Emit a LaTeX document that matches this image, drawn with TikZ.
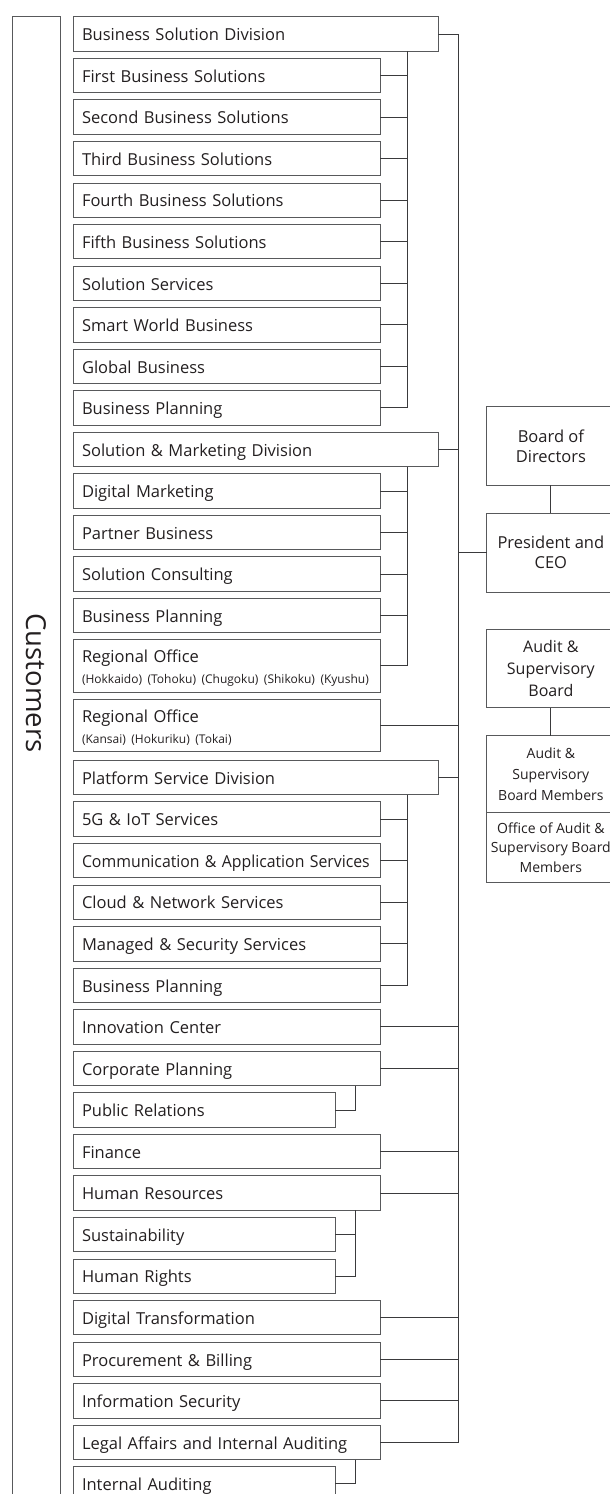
\documentclass[tikz,border=0pt]{standalone}
\usepackage{fontspec}
\setmainfont{Open Sans}
\definecolor{txt}{HTML}{231F20}
\definecolor{boxc}{HTML}{58595B}
\definecolor{linec}{HTML}{3A3A3C}
\begin{document}
\begin{tikzpicture}[x=1pt,y=-1pt,
  box/.style={draw=boxc, line width=0.8pt, anchor=north west, outer sep=0pt, inner xsep=9pt, inner ysep=0pt,
    minimum height=34.4pt, text height=13.6pt, text depth=0pt, align=left,
    font=\fontsize{16.5}{20}\selectfont, text=txt},
  ub/.style={box, text width=289pt},
  db/.style={box, text width=347pt},
  sb/.style={box, text width=244pt},
  rb/.style={box, text width=289pt, minimum height=52.7pt, text height=12pt, text depth=17.9pt,
    font=\fontsize{16.5}{20.6}\selectfont},
  cb/.style={draw=boxc, line width=0.8pt, anchor=north west, outer sep=0pt, inner sep=0pt,
    minimum width=128.3pt, align=center, text=txt},
  link/.style={draw=linec, line width=0.8pt}]
\useasboundingbox (0,0) rectangle (610,1494);
\clip (0,0) rectangle (610,1494);

% customers
\node[draw=boxc, line width=0.8pt, anchor=north west, outer sep=0pt, inner sep=0pt,
  minimum width=48pt, minimum height=1500pt] (cust) at (12,16.3) {};
\node[rotate=-90, text=txt, font=\fontsize{27.5}{30}\selectfont] (custtext) at (36,683) {Customers};

% left column
\node[db] (bsd) at (73,16.7) {Business Solution Division};
\node[ub] (first) at (73,58.25) {First Business Solutions};
\node[ub] (second) at (73,99.8) {Second Business Solutions};
\node[ub] (third) at (73,141.35) {Third Business Solutions};
\node[ub] (fourth) at (73,182.9) {Fourth Business Solutions};
\node[ub] (fifth) at (73,224.45) {Fifth Business Solutions};
\node[ub] (solsvc) at (73,266.0) {Solution Services};
\node[ub] (smart) at (73,307.55) {Smart World Business};
\node[ub] (global) at (73,349.1) {Global Business};
\node[ub] (bsdp) at (73,390.65) {Business Planning};
\node[db] (sm) at (73,432.2) {Solution \& Marketing Division};
\node[ub] (dm) at (73,473.75) {Digital Marketing};
\node[ub] (partner) at (73,515.3) {Partner Business};
\node[ub] (consult) at (73,556.85) {Solution Consulting};
\node[ub] (smp) at (73,598.4) {Business Planning};
\node[rb] (ro1) at (73,639.3) {Regional Office\\{\fontsize{12}{20.6}\selectfont (Hokkaido) (Tohoku) (Chugoku) (Shikoku) (Kyushu)}};
\node[rb, minimum height=52.4pt] (ro2) at (73,699.3) {Regional Office\\{\fontsize{12}{20.6}\selectfont (Kansai) (Hokuriku) (Tokai)}};
\node[db] (psd) at (73,760.3) {Platform Service Division};
\node[ub] (iot) at (73,801.85) {5G \& IoT Services};
\node[ub] (comm) at (73,843.4) {\scalebox{0.96}[1]{Communication \& Application Services}};
\node[ub] (cloud) at (73,884.95) {Cloud \& Network Services};
\node[ub] (managed) at (73,926.5) {Managed \& Security Services};
\node[ub] (psdp) at (73,968.05) {Business Planning};
\node[ub] (inno) at (73,1009.6) {Innovation Center};
\node[ub] (corp) at (73,1051.15) {Corporate Planning};
\node[sb] (pr) at (73,1092.7) {Public Relations};
\node[ub] (fin) at (73,1134.25) {Finance};
\node[ub] (hr) at (73,1175.8) {Human Resources};
\node[sb] (sust) at (73,1217.35) {Sustainability};
\node[sb] (hrights) at (73,1258.9) {Human Rights};
\node[ub] (dx) at (73,1300.45) {Digital Transformation};
\node[ub] (proc) at (73,1342.0) {Procurement \& Billing};
\node[ub] (infosec) at (73,1383.55) {Information Security};
\node[ub] (legal) at (73,1425.1) {Legal Affairs and Internal Auditing};
\node[sb] (ia) at (73,1466.65) {Internal Auditing};

% right column
\node[cb, minimum height=78.6pt, font=\fontsize{16.5}{20}\selectfont] (board) at (486.7,406.7) {Board of\\Directors};
\node[cb, minimum height=78.7pt, font=\fontsize{16.5}{20.3}\selectfont] (pres) at (486.7,513.3) {President and\\CEO};
\node[cb, minimum height=78.4pt, font=\fontsize{16}{21.7}\selectfont] (asb) at (486.7,629.3) {Audit \&\\Supervisory\\Board};
\node[cb, minimum height=77pt, font=\fontsize{14}{20.8}\selectfont] (asbm) at (486.7,735.7) {Audit \&\\Supervisory\\Board Members};
\node[cb, minimum height=70pt, font=\fontsize{14}{19.5}\selectfont] (oasbm) at (486.7,812.7) {Office of Audit \&\\Supervisory Board\\Members};

% connectors
\coordinate (trunk) at (458.3,0);
\coordinate (sub) at (407.3,0);
\coordinate (sh) at (355.3,0);

\draw[link] (bsd.east) -| (trunk |- legal.east) -- (legal.east);
\foreach \n in {sm,ro2,psd,inno,corp,fin,hr,dx,proc,infosec}
  \draw[link] (\n.east) -- (\n.east -| trunk);
\draw[link] (pres.west) -- (pres.west -| trunk);

\draw[link] (bsd.south -| sub) -- (sub |- bsdp.east) -- (bsdp.east);
\foreach \n in {first,second,third,fourth,fifth,solsvc,smart,global}
  \draw[link] (\n.east) -- (\n.east -| sub);

\draw[link] (sm.south -| sub) -- (sub |- ro1.east) -- (ro1.east);
\foreach \n in {dm,partner,consult,smp}
  \draw[link] (\n.east) -- (\n.east -| sub);

\draw[link] (psd.south -| sub) -- (sub |- psdp.east) -- (psdp.east);
\foreach \n in {iot,comm,cloud,managed}
  \draw[link] (\n.east) -- (\n.east -| sub);

\draw[link] (corp.south -| sh) -- (sh |- pr.east) -- (pr.east);
\draw[link] (hr.south -| sh) -- (sh |- hrights.east) -- (hrights.east);
\draw[link] (sust.east) -- (sust.east -| sh);
\draw[link] (legal.south -| sh) -- (sh |- ia.east) -- (ia.east);

\draw[link] (board.south) -- (pres.north);
\draw[link] (asb.south) -- (asbm.north);
\end{tikzpicture}
\end{document}
